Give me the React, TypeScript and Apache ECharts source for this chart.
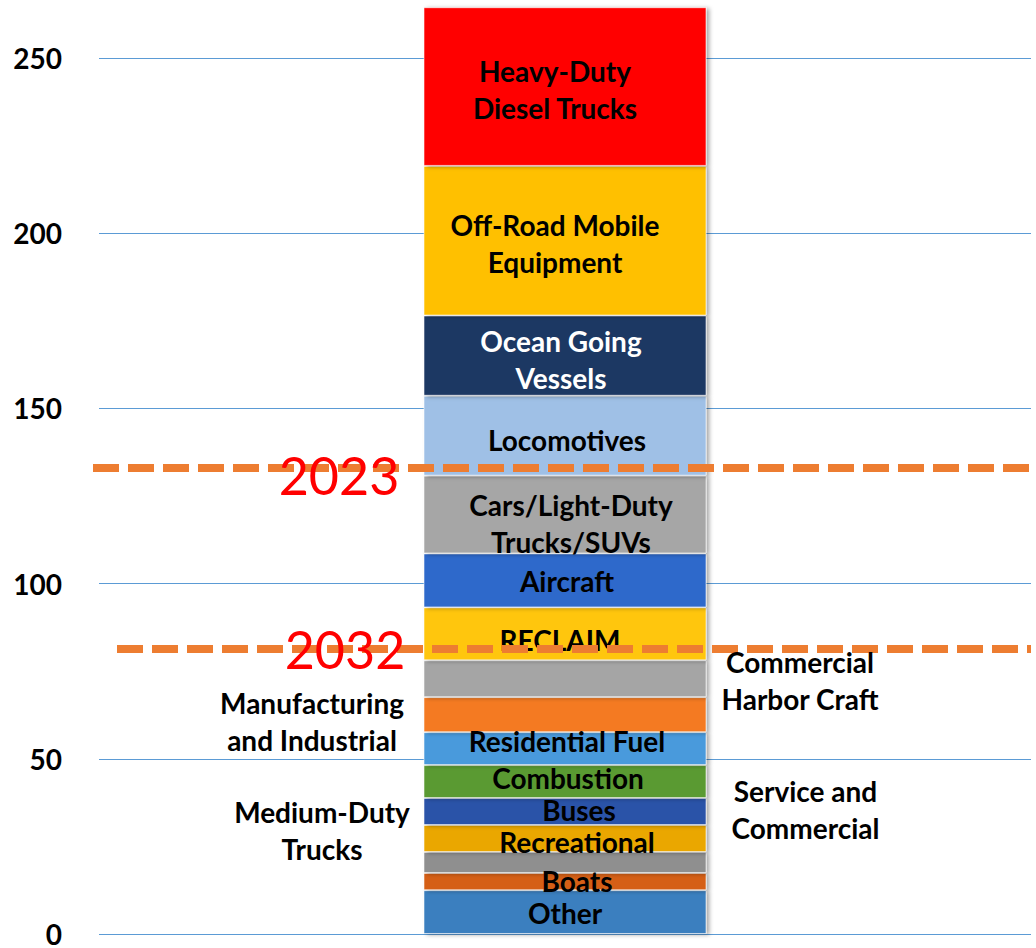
import React, { useEffect, useRef } from "react";
import * as echarts from "echarts";

// Stacked segments, bottom to top
const segmentNames = [
  "Other",
  "Recreational Boats",
  "Medium-Duty Trucks",
  "Recreational",
  "Buses",
  "Combustion",
  "Residential Fuel",
  "Manufacturing and Industrial",
  "Commercial Harbor Craft",
  "RECLAIM",
  "Aircraft",
  "Cars/Light-Duty Trucks/SUVs",
  "Locomotives",
  "Ocean Going Vessels",
  "Off-Road Mobile Equipment",
  "Heavy-Duty Diesel Trucks",
];
const segmentValues = [12.5, 4.9, 6.0, 7.7, 7.7, 9.4, 9.4, 10.0, 10.5, 15.1, 15.4, 22.2, 22.8, 22.9, 42.7, 45.3];
const segmentLabels = [
  "Other",
  "Boats",
  "",
  "Recreational",
  "Buses",
  "Combustion",
  "Residential Fuel",
  "",
  "",
  "RECLAIM",
  "Aircraft",
  "Cars/Light-Duty\nTrucks/SUVs",
  "Locomotives",
  "Ocean Going\nVessels",
  "Off-Road Mobile\nEquipment",
  "Heavy-Duty\nDiesel Trucks",
];
const categories = ["Emissions"];
const yTicks = [0, 50, 100, 150, 200, 250];
const yearNames = ["2023", "2032"];
const yearLevels = [133.1, 81.5];
const sideLabels = ["Manufacturing\nand Industrial", "Commercial\nHarbor Craft", "Medium-Duty\nTrucks", "Service and\nCommercial"];

// styles
const segmentColors = [
  "#3B7FBF", "#D55F14", "#8F8F8F", "#EAA700", "#2B52A8", "#5A9A31", "#4A9ADC", "#F47A20",
  "#A5A5A5", "#FFC60A", "#2F69CB", "#A6A6A6", "#9FC0E6", "#1F3864", "#FFC000", "#FF0000",
];
const labelColors = segmentNames.map((_, i) => (i === 13 ? "#FFFFFF" : "#000000"));
const labelOffsets = [
  [0, 1], [12, -1], [0, 0], [12, 3], [14, -2], [3, -4], [2, -8], [0, 0],
  [0, 0], [-5, 6], [2, 1], [6, 9], [2, 4], [-4, 4], [-10, 3], [-10, 3],
];
const yearTextPos = [
  [339, 7.5],
  [345, 1],
];
const sideLabelPos = [
  [312, 721],
  [800, 680.5],
  [322, 830],
  [805.5, 809.5],
];
const yearLineStart = [93, 117];

const FONT = "Lato, 'Open Sans', sans-serif";
const LABEL_SIZE = 28;

export default function App() {
  const ref = useRef<HTMLDivElement>(null);
  useEffect(() => {
    if (!ref.current) return;
    const chart = echarts.init(ref.current, null, { renderer: "svg" });
    const series: any[] = segmentNames.map((name, i) => ({
      name,
      type: "bar",
      stack: "total",
      barWidth: 283,
      clip: false,
      data: [segmentValues[i]],
      itemStyle: {
        color: segmentColors[i],
        borderColor: "rgba(255,255,255,0.55)",
        borderWidth: 1,
        shadowColor: "rgba(0,0,0,0.35)",
        shadowBlur: 4,
        shadowOffsetX: 3,
        shadowOffsetY: 1,
      },
      label: {
        show: segmentLabels[i] !== "",
        position: "inside",
        formatter: segmentLabels[i],
        color: labelColors[i],
        fontFamily: FONT,
        fontWeight: "bold",
        fontSize: LABEL_SIZE,
        lineHeight: 37,
        offset: labelOffsets[i],
      },
      emphasis: { disabled: true },
      silent: true,
    }));
    series[series.length - 1].markLine = {
      silent: true,
      symbol: ["none", "none"],
      label: { show: false },
      z: 10,
      lineStyle: { color: "#ED7D31", width: 8, type: [26, 9], opacity: 1 },
      data: yearLevels.map((v, i) => [
        { yAxis: v, x: yearLineStart[i] },
        { yAxis: v, x: 1031 },
      ]),
    };
    const option: any = {
      animation: false,
      grid: { left: 99, right: 5, top: 58, bottom: 13, containLabel: false },
      xAxis: {
        type: "category",
        data: categories,
        axisLine: { show: false },
        axisTick: { show: false },
        axisLabel: { show: false },
      },
      yAxis: {
        type: "value",
        min: 0,
        max: 250,
        interval: 50,
        axisLine: { show: false },
        axisTick: { show: false },
        axisLabel: {
          margin: 37,
          color: "#000000",
          fontFamily: FONT,
          fontWeight: "bold",
          fontSize: 28,
          lineHeight: 24,
          padding: [0, 0, 4, 0],
          formatter: (v: number) => (yTicks.includes(v) ? String(v) : ""),
        },
        splitLine: { lineStyle: { color: "#5B9BD5", width: 1 } },
      },
      series,
    };
    chart.setOption(option);
    const graphics: any[] = [];
    yearNames.forEach((name, i) => {
      const y = chart.convertToPixel({ yAxisIndex: 0 }, yearLevels[i]) as number;
      graphics.push({
        type: "text",
        x: yearTextPos[i][0],
        y: y + yearTextPos[i][1],
        z: 100,
        style: {
          text: name,
          fill: "#FF0000",
          fontFamily: FONT,
          fontSize: 52,
          align: "center",
          verticalAlign: "middle",
        },
      });
    });
    sideLabels.forEach((t, i) => {
      graphics.push({
        type: "text",
        x: sideLabelPos[i][0],
        y: sideLabelPos[i][1],
        z: 50,
        style: {
          text: t,
          fill: "#000000",
          fontFamily: FONT,
          fontWeight: "bold",
          fontSize: LABEL_SIZE,
          lineHeight: 37,
          align: "center",
          verticalAlign: "middle",
        },
      });
    });
    chart.setOption({ graphic: graphics });
    return () => chart.dispose();
  }, []);
  return (
    <div
      ref={ref}
      style={{ position: "fixed", left: 0, top: 0, width: 1036, height: 948, background: "#FFFFFF" }}
    />
  );
}
